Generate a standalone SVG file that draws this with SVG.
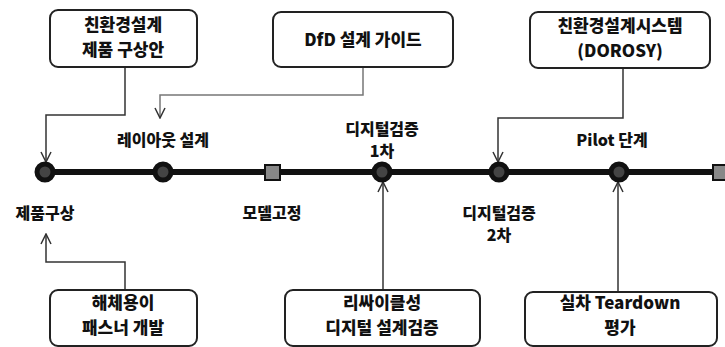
<svg xmlns="http://www.w3.org/2000/svg" width="725" height="347" viewBox="0 0 725 347">
<defs>
<style>
.box{fill:#fff;stroke:#222;stroke-width:2}
.bt{font-family:"Noto Sans CJK KR","Noto Sans",sans-serif;font-weight:900;font-size:17px;fill:#111;text-anchor:middle}
.lb{font-family:"Noto Sans CJK KR","Noto Sans",sans-serif;font-weight:900;font-size:16px;fill:#111;text-anchor:middle}
.con{fill:none;stroke:#333;stroke-width:1.5}
.conl{fill:none;stroke:#777;stroke-width:1.5}
.dot{fill:#444;stroke:#111;stroke-width:5}
.sq{fill:#888;stroke:#111;stroke-width:2}
</style>
<marker id="ah" viewBox="0 0 12 12" refX="11" refY="6" markerWidth="12" markerHeight="12" markerUnits="userSpaceOnUse" orient="auto">
<path d="M1,1 L11,6 L1,11" fill="none" stroke="#333" stroke-width="1.5"/>
</marker>
</defs>
<rect width="725" height="347" fill="#fff"/>
<g id="timeline">
<line x1="45" y1="172" x2="722" y2="172" stroke="#111" stroke-width="6"/>
</g>
<g id="connectors">
<polyline class="con" points="125,67 125,115 46,115 46,162" marker-end="url(#ah)"/>
<polyline class="conl" points="363,67 363,95 160,95 160,118" marker-end="url(#ah)"/>
<polyline class="con" points="623,68 623,118 498,118 498,162" marker-end="url(#ah)"/>
<polyline class="con" points="125,290 125,262 46,262 46,234" marker-end="url(#ah)"/>
<polyline class="con" points="383,290 383,182" marker-end="url(#ah)"/>
<polyline class="con" points="618,292 618,182" marker-end="url(#ah)"/>
</g>
<g id="n-concept"><circle class="dot" cx="45" cy="172" r="8"/><text class="lb" x="45" y="219">제품구상</text></g>
<g id="n-layout"><circle class="dot" cx="163" cy="172" r="8"/><text class="lb" x="163" y="146">레이아웃 설계</text></g>
<g id="n-model"><rect class="sq" x="265" y="165" width="15" height="15"/><text class="lb" x="272" y="219">모델고정</text></g>
<g id="n-dv1"><circle class="dot" cx="382" cy="172" r="8"/><text class="lb" x="382" y="135">디지털검증</text><text class="lb" x="382" y="157">1차</text></g>
<g id="n-dv2"><circle class="dot" cx="499" cy="172" r="8"/><text class="lb" x="499" y="219">디지털검증</text><text class="lb" x="499" y="241">2차</text></g>
<g id="n-pilot"><circle class="dot" cx="619" cy="172" r="8"/><text class="lb" x="612" y="146">Pilot 단계</text></g>
<g id="n-end"><rect class="sq" x="713" y="165" width="15" height="15"/></g>
<g id="b1"><rect class="box" x="50" y="10" width="147" height="57" rx="8"/><text class="bt" x="123" y="31">친환경설계</text><text class="bt" x="123" y="56">제품 구상안</text></g>
<g id="b2"><rect class="box" x="273" y="12" width="180" height="55" rx="8"/><text class="bt" x="363" y="46">DfD 설계 가이드</text></g>
<g id="b3"><rect class="box" x="530" y="12" width="180" height="56" rx="8"/><text class="bt" x="620" y="32">친환경설계시스템</text><text class="bt" x="620" y="57">(DOROSY)</text></g>
<g id="b4"><rect class="box" x="50" y="290" width="147" height="56" rx="8"/><text class="bt" x="123" y="309">해체용이</text><text class="bt" x="123" y="334">패스너 개발</text></g>
<g id="b5"><rect class="box" x="285" y="290" width="195" height="56" rx="8"/><text class="bt" x="382" y="309">리싸이클성</text><text class="bt" x="382" y="334">디지털 설계검증</text></g>
<g id="b6"><rect class="box" x="525" y="292" width="192" height="54" rx="8"/><text class="bt" x="620" y="309">실차 Teardown</text><text class="bt" x="620" y="334">평가</text></g>
</svg>
